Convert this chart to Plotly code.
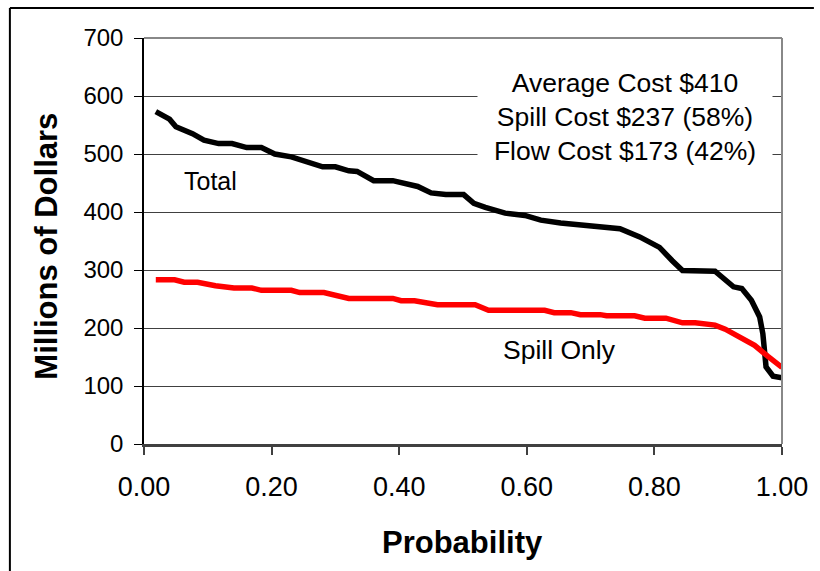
import plotly.graph_objects as go

# Data
total_p = [0.0185, 0.04, 0.05, 0.076, 0.094, 0.117, 0.138, 0.161, 0.184, 0.205, 0.231, 0.257,
           0.280, 0.300, 0.321, 0.334, 0.360, 0.39, 0.416, 0.429, 0.45, 0.473, 0.501, 0.517,
           0.535, 0.566, 0.597, 0.622, 0.653, 0.684, 0.710, 0.746, 0.777, 0.808, 0.828, 0.844,
           0.895, 0.911, 0.924, 0.937, 0.952, 0.965, 0.970, 0.975, 0.986, 1.0]
total_cost = [573, 560, 547, 535, 524, 518, 518, 511, 511, 500, 495, 486,
              478, 478, 471, 470, 454, 454, 448, 444, 433, 430, 430, 415,
              408, 398, 394, 386, 381, 378, 375, 371, 357, 339, 316, 299,
              298, 282, 271, 268, 248, 219, 190, 133, 117, 114]

spill_p = [0.0185, 0.048, 0.063, 0.084, 0.112, 0.141, 0.169, 0.184, 0.231, 0.244, 0.282, 0.303,
           0.321, 0.390, 0.403, 0.424, 0.460, 0.519, 0.540, 0.628, 0.643, 0.669, 0.684, 0.715,
           0.725, 0.769, 0.785, 0.818, 0.844, 0.864, 0.895, 0.911, 0.931, 0.957, 0.978, 1.0]
spill_cost = [283, 283, 279, 279, 273, 269, 269, 265, 265, 261, 261, 255,
              251, 251, 247, 247, 240, 240, 230.5, 230.5, 226.5, 226.5, 223, 223,
              221, 221, 217, 217, 209, 209, 205, 198, 186, 170, 151, 132]

x_ticks = [0.0, 0.2, 0.4, 0.6, 0.8, 1.0]
x_tick_labels = ["0.00", "0.20", "0.40", "0.60", "0.80", "1.00"]
y_ticks = [0, 100, 200, 300, 400, 500, 600, 700]

summary_lines = ["Average Cost $410", "Spill Cost $237 (58%)", "Flow Cost $173 (42%)"]

FONT = "Liberation Sans, Arial, sans-serif"

fig = go.Figure()
fig.add_trace(go.Scatter(x=total_p, y=total_cost, mode="lines", name="Total",
                         line=dict(color="black", width=5.5), showlegend=False))
fig.add_trace(go.Scatter(x=spill_p, y=spill_cost, mode="lines", name="Spill Only",
                         line=dict(color="#ff0000", width=5.5), showlegend=False))

fig.update_layout(
    width=820, height=571,
    margin=dict(l=144, r=29, t=38, b=127),
    paper_bgcolor="white", plot_bgcolor="white",
    font=dict(family=FONT, color="black"),
    xaxis=dict(range=[0, 1], tickvals=x_ticks, ticktext=x_tick_labels,
               showgrid=False, zeroline=False, showline=True, linecolor="#404040",
               linewidth=2.5, ticks="outside", ticklen=8, tickcolor="#404040",
               tickwidth=1.5, tickfont=dict(size=27, family=FONT), ticklabelstandoff=9),
    yaxis=dict(range=[0, 700], tickvals=y_ticks, showgrid=True, gridcolor="#404040",
               gridwidth=1, zeroline=False, showline=True, linecolor="black",
               linewidth=1.5, ticks="outside", ticklen=8, tickcolor="black",
               tickwidth=1.2, tickfont=dict(size=24, family=FONT), ticklabelstandoff=6),
)

# Plot frame (top / right gray) and outer chart frame
fig.add_shape(type="line", xref="paper", yref="paper", x0=0, x1=1, y0=1, y1=1,
              line=dict(color="#888888", width=2))
fig.add_shape(type="line", xref="paper", yref="paper", x0=1, x1=1, y0=0, y1=1,
              line=dict(color="#888888", width=2))
fig.add_shape(type="line", xref="paper", yref="paper", x0=-0.2102, x1=1.05, y0=1.0739, y1=1.0739,
              line=dict(color="black", width=2))
fig.add_shape(type="line", xref="paper", yref="paper", x0=-0.2102, x1=-0.2102, y0=-0.33, y1=1.0739,
              line=dict(color="black", width=2))

# Axis titles
fig.add_annotation(text="<b>Probability</b>", xref="paper", yref="paper", x=0.499, y=-0.243,
                   showarrow=False, font=dict(size=31, family=FONT), xanchor="center", yanchor="middle")
fig.add_annotation(text="<b>Millions of Dollars</b>", xref="paper", yref="paper", x=-0.153, y=0.487,
                   showarrow=False, textangle=-90, font=dict(size=31, family=FONT),
                   xanchor="center", yanchor="middle")

# Series labels
fig.add_annotation(text="Total", x=0.1036, y=453, showarrow=False,
                   font=dict(size=25, family=FONT), xanchor="center", yanchor="middle")
fig.add_annotation(text="Spill Only", x=0.651, y=162, showarrow=False,
                   font=dict(size=26.5, family=FONT), xanchor="center", yanchor="middle")

# Summary box
fig.add_annotation(text="<br>".join(summary_lines), x=0.7535, y=564, showarrow=False,
                   font=dict(size=26.5, family=FONT), align="center", bgcolor="white",
                   width=292, height=108, xanchor="center", yanchor="middle")

fig.write_html("out.html", config={"displayModeBar": False},
               post_script="document.body.style.margin='0';document.body.style.overflow='hidden';")
